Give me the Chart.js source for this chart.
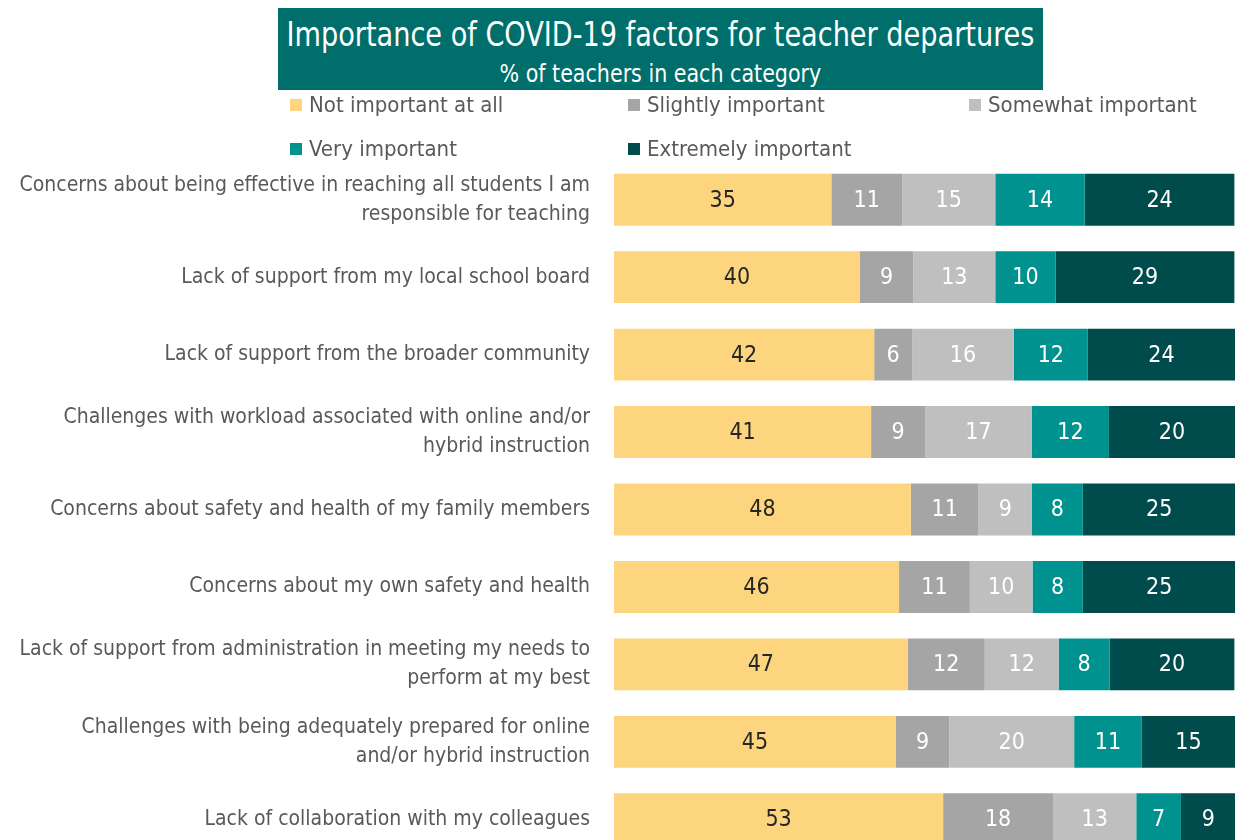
<!DOCTYPE html>
<html>
<head>
<meta charset="utf-8">
<script src="https://cdn.jsdelivr.net/npm/chart.js@4"></script>
<style>
  html, body { margin: 0; padding: 0; background: #fff; overflow: hidden; }
  body { width: 1235px; height: 840px; position: relative;
         font-family: "DejaVu Sans Condensed", "DejaVu Sans", sans-serif; }
  #titleBox { position: absolute; left: 278px; top: 8px; width: 765px; height: 82px;
              background: #006E6A; color: #fff; z-index: 2; }
  #titleBox div { position: absolute; left: 0; width: 765px; white-space: nowrap;
                  display: flex; justify-content: center; }
  #titleBox span { display: inline-block; transform-origin: center; flex: none; }
  #t1 { top: 6px; font-size: 34px; line-height: 40px; }
  #t2 { top: 52px; font-size: 25px; line-height: 28px; }
  .legend { position: absolute; font-size: 22px; color: #595959; white-space: nowrap; z-index: 2; }
  .legend span { display: inline-block; width: 12px; height: 12px; margin-right: 7px; vertical-align: 1px; }
  #chart { position: absolute; left: 0; top: 0; }
</style>
</head>
<body>
<canvas id="chart" width="1235" height="911"></canvas>
<div id="titleBox">
  <div id="t1"><span>Importance of COVID-19 factors for teacher departures</span></div>
  <div id="t2"><span>% of teachers in each category</span></div>
</div>
<div id="legend"></div>
<script>
// 항목 (y축 라벨)
const categories = [
    ["Concerns about being effective in reaching all students I am", "responsible for teaching"],
    "Lack of support from my local school board",
    "Lack of support from the broader community",
    ["Challenges with workload associated with online and/or", "hybrid instruction"],
    "Concerns about safety and health of my family members",
    "Concerns about my own safety and health",
    ["Lack of support from administration in meeting my needs to", "perform at my best"],
    ["Challenges with being adequately prepared for online", "and/or hybrid instruction"],
    "Lack of collaboration with my colleagues"
];

const seriesNames = ["Not important at all", "Slightly important", "Somewhat important", "Very important", "Extremely important"];

// 응답 비율 (%)
const notImportant = [35.0, 39.6, 41.9, 41.4, 47.8, 45.9, 47.3, 45.4, 53.0];
const slightly     = [11.4,  8.6,  6.1,  8.7, 10.9, 11.4, 12.4,  8.6, 17.7];
const somewhat     = [15.0, 13.2, 16.4, 17.2,  8.6, 10.1, 11.9, 20.1, 13.4];
const very         = [14.4,  9.7, 11.9, 12.4,  8.2,  8.1,  8.2, 10.9,  7.2];
const extremely    = [24.1, 28.8, 23.7, 20.3, 24.6, 24.6, 20.1, 15.0,  8.8];

const colors = ["#FDD57E", "#A5A5A5", "#BFBFBF", "#00928E", "#004B4B"];
const labelColors = ["#262626", "#fff", "#fff", "#fff", "#fff"];

// 제목 폭 맞추기 (좁은 글꼴 흉내)
function fitWidth(id, target) {
    const s = document.querySelector("#" + id + " span");
    s.style.transform = "scaleX(" + (target / s.offsetWidth) + ")";
}
fitWidth("t1", 748);
fitWidth("t2", 322);

// 범례 (HTML)
const legendPos = [[290, 92], [628, 92], [969, 92], [290, 136], [628, 136]];
const legendEl = document.getElementById("legend");
seriesNames.forEach((name, i) => {
    const d = document.createElement("div");
    d.className = "legend";
    d.style.left = legendPos[i][0] + "px";
    d.style.top = legendPos[i][1] + "px";
    d.innerHTML = `<span style="background:${colors[i]}"></span>${name}`;
    legendEl.appendChild(d);
});

const FONT = "'DejaVu Sans Condensed', 'DejaVu Sans', sans-serif";

// 막대 안에 값 표시
const valueLabels = {
    id: "valueLabels",
    afterDatasetsDraw(chart) {
        const ctx = chart.ctx;
        ctx.save();
        ctx.font = "23px " + FONT;
        ctx.textAlign = "center";
        ctx.textBaseline = "middle";
        chart.data.datasets.forEach((ds, i) => {
            chart.getDatasetMeta(i).data.forEach((bar, j) => {
                const p = bar.getCenterPoint();
                ctx.fillStyle = labelColors[i];
                ctx.fillText(Math.round(ds.data[j]), p.x, p.y + 1);
            });
        });
        ctx.restore();
    }
};

const series = [notImportant, slightly, somewhat, very, extremely];

new Chart(document.getElementById("chart").getContext("2d"), {
    type: "bar",
    data: {
        labels: categories,
        datasets: series.map((data, i) => ({
            label: seriesNames[i],
            data: data,
            backgroundColor: colors[i],
            borderWidth: 0,
            categoryPercentage: 1,
            barPercentage: 0.67
        }))
    },
    options: {
        indexAxis: "y",
        responsive: false,
        animation: false,
        layout: { padding: { top: 161, bottom: 12, left: 0, right: 0 } },
        plugins: { legend: { display: false }, title: { display: false }, tooltip: { enabled: false } },
        scales: {
            x: { stacked: true, min: 0, max: 100, display: false },
            y: {
                stacked: true,
                grid: { display: false, drawTicks: false },
                border: { display: false },
                ticks: { color: "#595959", padding: 24, font: { family: FONT, size: 21, lineHeight: 1.38 } },
                afterFit(scale) { scale.width = 614; }
            }
        }
    },
    plugins: [valueLabels]
});
</script>
</body>
</html>
